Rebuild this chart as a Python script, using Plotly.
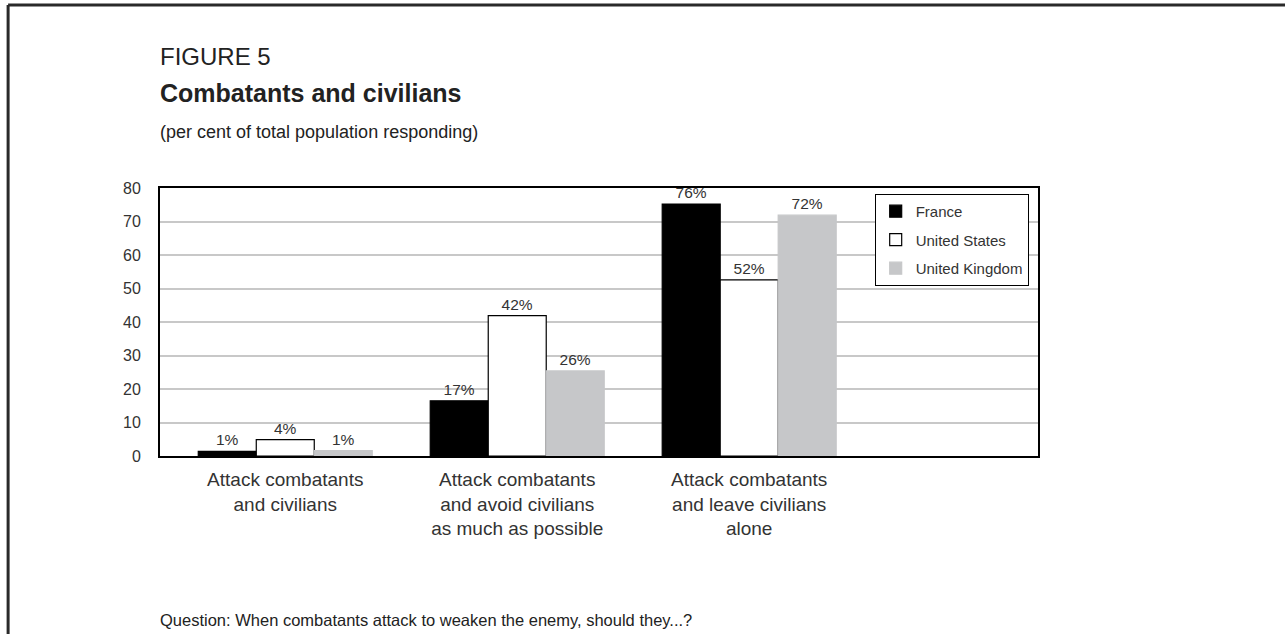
import plotly.graph_objects as go

categories = ["Attack combatants<br>and civilians",
              "Attack combatants<br>and avoid civilians<br>as much as possible",
              "Attack combatants<br>and leave civilians<br>alone"]
series_names = ["France", "United States", "United Kingdom"]
france = [1.4, 16.5, 75.2]
united_states = [4.9, 41.9, 52.6]
united_kingdom = [1.6, 25.4, 71.9]
france_labels = ["1%", "17%", "76%"]
us_labels = ["4%", "42%", "52%"]
uk_labels = ["1%", "26%", "72%"]
y_ticks = [0, 10, 20, 30, 40, 50, 60, 70, 80]

FONT = "Liberation Sans, Arial, sans-serif"
TXT = "#333333"

fig = go.Figure()
styles = [
    (series_names[0], france, france_labels, "#000000", "#000000"),
    (series_names[1], united_states, us_labels, "#ffffff", "#000000"),
    (series_names[2], united_kingdom, uk_labels, "#c6c7c9", "#c6c7c9"),
]
for i, (name, vals, labels, fill, line) in enumerate(styles):
    fig.add_trace(go.Bar(
        name=name, x=[0, 1, 2], y=vals, text=labels,
        textposition="outside", cliponaxis=False, constraintext="none",
        legendgroup=f"g{i}",
        textfont=dict(family=FONT, size=15.5, color=TXT),
        marker=dict(color=fill, line=dict(color=line, width=1.2)),
    ))

fig.update_layout(
    width=1285, height=634,
    margin=dict(l=160, r=247, t=188, b=178),
    paper_bgcolor="white", plot_bgcolor="white",
    barmode="group", bargap=0.25, bargroupgap=0,
    font=dict(family=FONT, color=TXT),
    showlegend=True,
    legend=dict(x=0.814, y=0.978, xanchor="left", yanchor="top",
                bgcolor="white", bordercolor="black", borderwidth=1,
                font=dict(family=FONT, size=15, color=TXT),
                traceorder="grouped", tracegroupgap=6, itemwidth=30),
    xaxis=dict(range=[-0.54, 3.245], tickmode="array", tickvals=[0, 1, 2],
               ticktext=categories, tickfont=dict(family=FONT, size=19, color=TXT),
               showline=True, linecolor="black", linewidth=2, mirror=True,
               showgrid=False, zeroline=False, ticks="", ticklabelstandoff=5),
    yaxis=dict(range=[0, 80], tickmode="array", tickvals=y_ticks,
               tickfont=dict(family=FONT, size=16, color=TXT),
               showline=True, linecolor="black", linewidth=2, mirror=True,
               showgrid=True, gridcolor="#c8c8c8", gridwidth=1.5,
               zeroline=False, ticks="", ticklabelstandoff=14),
)

# outer frame
fig.add_shape(type="line", xref="paper", yref="paper",
              x0=-0.173, x1=-0.173, y0=-0.7, y1=1.683,
              line=dict(color="#2a2a2a", width=3))
fig.add_shape(type="line", xref="paper", yref="paper",
              x0=-0.173, x1=1.3, y0=1.683, y1=1.683,
              line=dict(color="#2a2a2a", width=3))

fig.add_annotation(xref="paper", yref="paper", x=-0.0025, y=1.489,
                   xanchor="left", yanchor="middle", showarrow=False,
                   text="FIGURE 5", font=dict(family=FONT, size=24, color="#222"))
fig.add_annotation(xref="paper", yref="paper", x=-0.0025, y=1.354,
                   xanchor="left", yanchor="middle", showarrow=False,
                   text="<b>Combatants and civilians</b>",
                   font=dict(family=FONT, size=25, color="#222"))
fig.add_annotation(xref="paper", yref="paper", x=-0.0025, y=1.209,
                   xanchor="left", yanchor="middle", showarrow=False,
                   text="(per cent of total population responding)",
                   font=dict(family=FONT, size=18, color="#222"))
fig.add_annotation(xref="paper", yref="paper", x=-0.0025, y=-0.612,
                   xanchor="left", yanchor="middle", showarrow=False,
                   text="Question: When combatants attack to weaken the enemy, should they...?",
                   font=dict(family=FONT, size=16.5, color="#222"))

fig.write_html("out.html")
